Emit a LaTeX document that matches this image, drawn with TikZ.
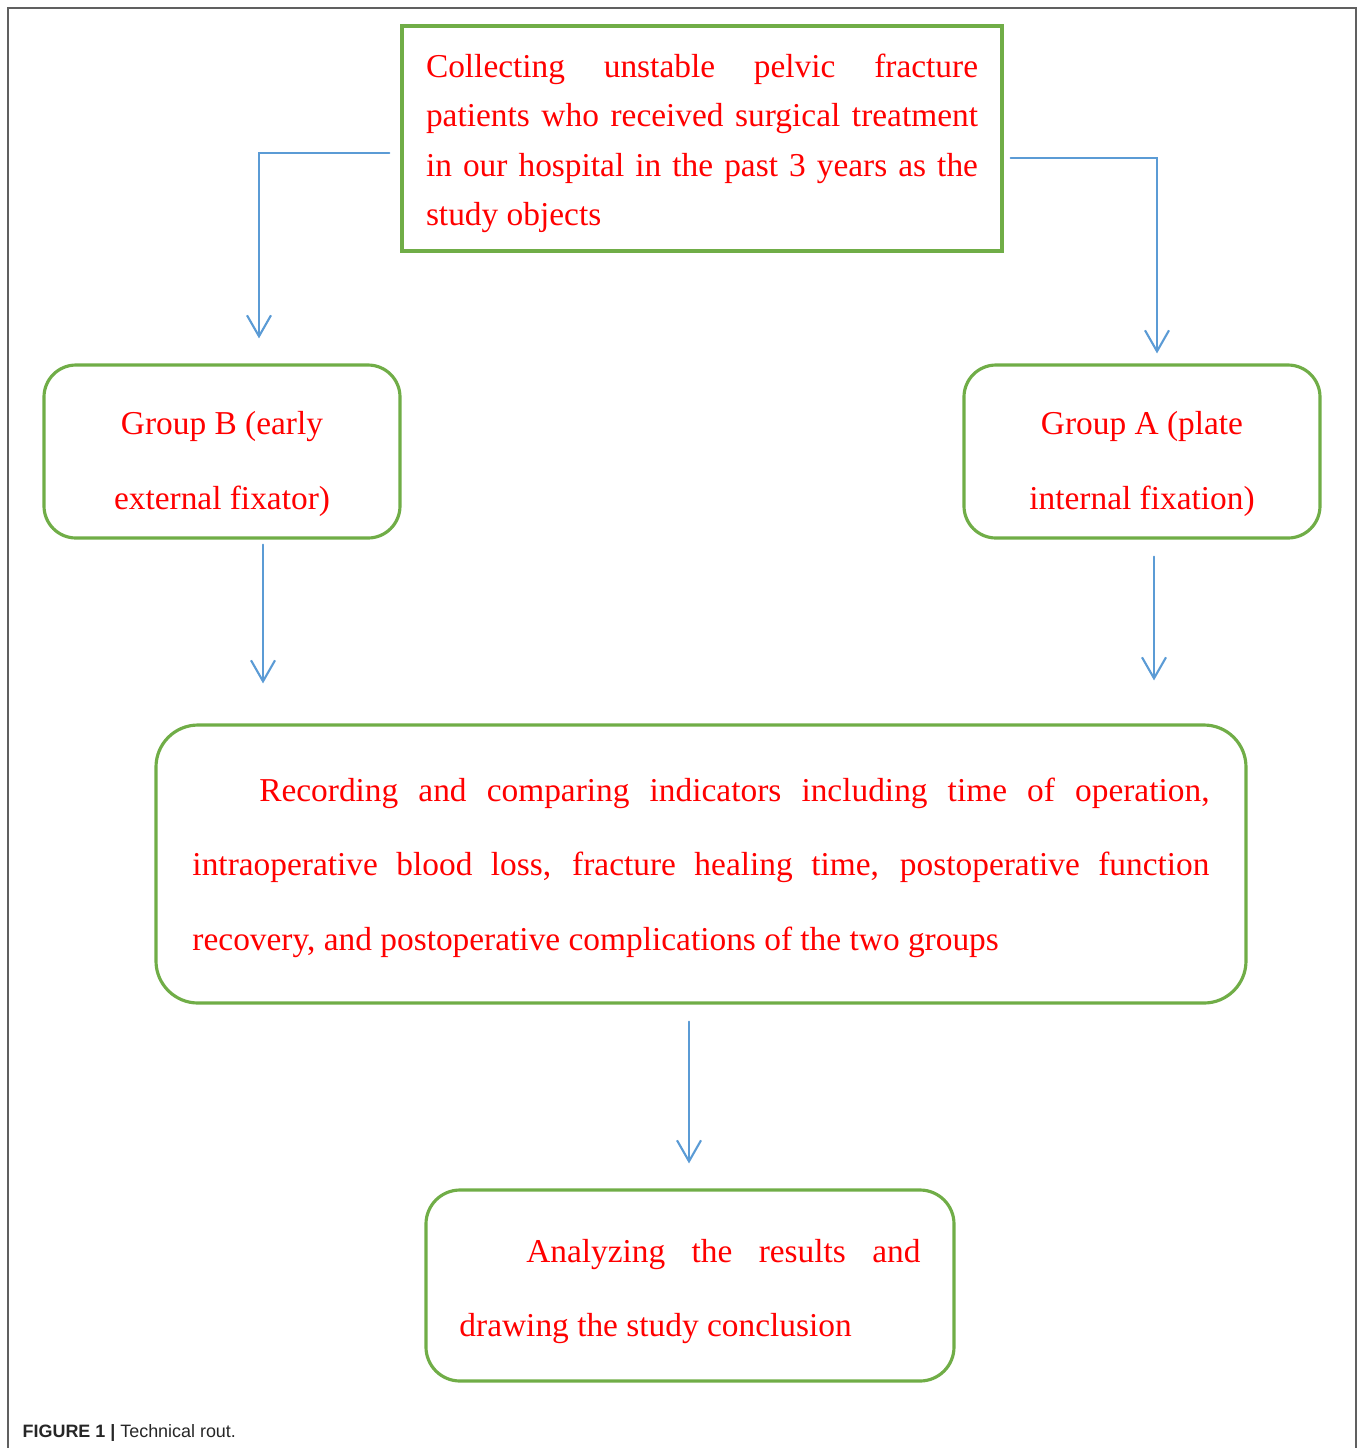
\documentclass[tikz,border=0pt]{standalone}
\usepackage{fontspec}
\setmainfont{Liberation Serif}
\newfontfamily\capfont{Liberation Sans}
\usetikzlibrary{arrows.meta}
\definecolor{boxgreen}{RGB}{112,173,71}
\definecolor{flowblue}{RGB}{91,155,213}

\begin{document}
\begin{tikzpicture}[>={Straight Barb[length=2.1mm,width=2.4mm]},line cap=round,
  box/.style={draw=boxgreen,line width=0.9pt,text=red,inner sep=0pt,font=\fontsize{9.5}{21.2}\selectfont},
  rbox/.style={box,rounded corners=#1},
  flow/.style={->,draw=flowblue,line width=0.6pt}]
\useasboundingbox (0,0) rectangle (13.58,-14.48);
\draw[gray!75!black,line width=0.6pt] (0.08,-14.48) -- (0.08,-0.08) -- (13.56,-0.08) -- (13.56,-14.48);
% boxes
\node[box,font=\fontsize{9.5}{14.1}\selectfont,minimum width=6cm,minimum height=2.25cm,text width=5.52cm,align=justify] (coll) at (7.02,-1.385)
  {\rule{0pt}{0.33cm}Collecting unstable pelvic fracture\linebreak patients who received surgical treatment\linebreak in our hospital in the past 3 years as the\linebreak study objects};
\node[rbox=0.32cm,minimum width=3.56cm,minimum height=1.73cm,align=center] (grpB) at (2.22,-4.515)
  {\rule{0pt}{0.48cm}Group B (early\\external fixator)};
\node[rbox=0.32cm,minimum width=3.56cm,minimum height=1.73cm,align=center] (grpA) at (11.42,-4.515)
  {\rule{0pt}{0.48cm}Group A (plate\\internal fixation)};
\node[rbox=0.42cm,minimum width=10.9cm,minimum height=2.78cm,text width=10.17cm,align=justify] (rec) at (7.01,-8.64)
  {\rule{0pt}{0.31cm}\hspace*{2em}Recording and comparing indicators including time of operation,\linebreak intraoperative blood loss, fracture healing time, postoperative function\linebreak recovery, and postoperative complications of the two groups};
\node[rbox=0.34cm,minimum width=5.28cm,minimum height=1.91cm,text width=4.61cm,align=justify] (ana) at (6.90,-12.855)
  {\rule{0pt}{0.35cm}\hspace*{2em}Analyzing the results and\linebreak drawing the study conclusion};
% arrows
\draw[flow,shorten <=0.11cm] ([yshift=-0.145cm]coll.west) -| ([xshift=0.37cm,yshift=0.25cm]grpB.north);
\draw[flow,shorten <=0.07cm] ([yshift=-0.195cm]coll.east) -| ([xshift=0.15cm,yshift=0.1cm]grpA.north);
\draw[flow,shorten <=0.05cm,shorten >=0.4cm] ([xshift=0.41cm]grpB.south) -- ([xshift=0.41cm]grpB.south |- rec.north);
\draw[flow,shorten <=0.17cm,shorten >=0.43cm] ([xshift=0.12cm]grpA.south) -- ([xshift=0.12cm]grpA.south |- rec.north);
\draw[flow,shorten <=0.17cm,shorten >=0.25cm] ([xshift=-0.12cm]rec.south) -- ([xshift=-0.12cm]rec.south |- ana.north);
% caption
\node[anchor=base west,inner sep=0pt,text=black!85,font=\capfont\fontsize{5.1}{6}\selectfont] (cap) at (0.22,-14.37)
  {\textbf{FIGURE 1 |} Technical rout.};
\end{tikzpicture}
\end{document}
